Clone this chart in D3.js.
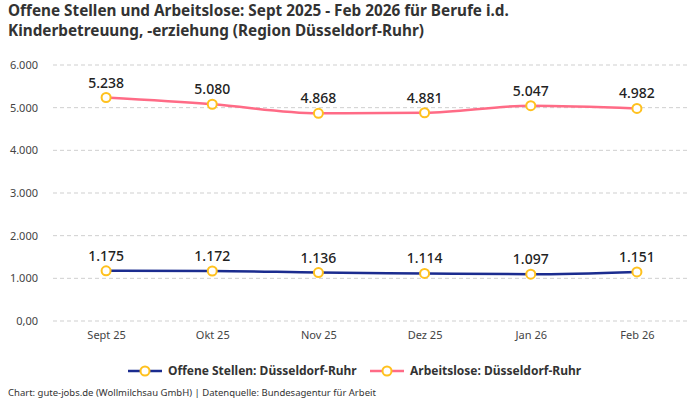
<!DOCTYPE html>
<html>
<head>
<meta charset="utf-8">
<script src="https://cdn.jsdelivr.net/npm/d3@7"></script>
<style>
  body { margin: 0; background: #fff; }
  text { font-family: "Noto Sans", sans-serif; }
</style>
</head>
<body>
<svg id="chart"></svg>
<script>
const WIDTH = 700;
const HEIGHT = 400;

const PADDING = {
    top: 65,
    bottom: 79,
    start: 53,
    end: 10
};

const months = ["Sept 25", "Okt 25", "Nov 25", "Dez 25", "Jan 26", "Feb 26"];
const offeneStellen = [1175, 1172, 1136, 1114, 1097, 1151];
const arbeitslose = [5238, 5080, 4868, 4881, 5047, 4982];
const yTicks = [0, 1000, 2000, 3000, 4000, 5000, 6000];
const yTickLabels = ["0,00", "1.000", "2.000", "3.000", "4.000", "5.000", "6.000"];

const seriesNames = ["Offene Stellen: Düsseldorf-Ruhr", "Arbeitslose: Düsseldorf-Ruhr"];
const seriesColors = ["#1b2c8f", "#ff6b86"];
const MARKER_COLOR = "#ffc11e";

const deFormat = d3.formatLocale({ decimal: ",", thousands: ".", grouping: [3], currency: ["", "€"] }).format(",d");

const svg = d3.select("#chart")
    .attr("width", WIDTH)
    .attr("height", HEIGHT);

// title
const title = svg.append("text")
    .attr("x", 8)
    .attr("y", 16)
    .attr("font-size", "15.3px")
    .attr("font-weight", "bold")
    .attr("fill", "#333");
title.append("tspan").attr("x", 8).attr("dy", 0)
    .text("Offene Stellen und Arbeitslose: Sept 2025 - Feb 2026 für Berufe i.d.");
title.append("tspan").attr("x", 8).attr("dy", 20)
    .text("Kinderbetreuung, -erziehung (Region Düsseldorf-Ruhr)");

let xScale = d3.scalePoint()
    .domain(months)
    .range([PADDING.start, WIDTH - PADDING.end])
    .padding(0.5);

let yScale = d3.scaleLinear()
    .domain([0, 6000])
    .range([HEIGHT - PADDING.bottom, PADDING.top]);

// grid lines
svg.append("g")
    .selectAll("line")
    .data(yTicks)
    .enter()
    .append("line")
        .attr("x1", PADDING.start)
        .attr("x2", WIDTH - PADDING.end)
        .attr("y1", d => yScale(d))
        .attr("y2", d => yScale(d))
        .attr("stroke", "#cfcfcf")
        .attr("stroke-dasharray", "4,3");

let yAxis = d3.axisLeft(yScale)
    .tickValues(yTicks)
    .tickSize(0)
    .tickPadding(0)
    .tickFormat((d, i) => yTickLabels[i]);
svg.append("g")
    .attr("transform", `translate(38, 0)`)
    .call(yAxis)
    .call(g => g.select(".domain").remove())
    .call(g => g.selectAll("text")
        .attr("font-size", "11px")
        .attr("fill", "#444")
        .style("font-family", "'Noto Sans', sans-serif"));

let xAxis = d3.axisBottom(xScale)
    .tickSize(0)
    .tickPadding(0);
svg.append("g")
    .attr("transform", `translate(0, ${HEIGHT - PADDING.bottom + 10})`)
    .call(xAxis)
    .call(g => g.select(".domain").remove())
    .call(g => g.selectAll("text")
        .attr("font-size", "11px")
        .attr("fill", "#444")
        .style("font-family", "'Noto Sans', sans-serif"));

const line = d3.line()
    .x((d, i) => xScale(months[i]))
    .y(d => yScale(d))
    .curve(d3.curveMonotoneX);

[offeneStellen, arbeitslose].forEach((values, s) => {
    const g = svg.append("g");
    g.append("path")
        .datum(values)
        .attr("d", line)
        .attr("fill", "none")
        .attr("stroke", seriesColors[s])
        .attr("stroke-width", 2.5);

    g.selectAll("circle")
        .data(values)
        .enter()
        .append("circle")
            .attr("cx", (d, i) => xScale(months[i]))
            .attr("cy", d => yScale(d))
            .attr("r", 4.5)
            .attr("fill", "#fff")
            .attr("stroke", MARKER_COLOR)
            .attr("stroke-width", 2);

    g.selectAll(".value-label")
        .data(values)
        .enter()
        .append("text")
            .classed("value-label", true)
            .attr("x", (d, i) => xScale(months[i]))
            .attr("y", d => yScale(d) - 10)
            .attr("text-anchor", "middle")
            .attr("font-size", "14px")
            .attr("font-weight", 500)
            .attr("fill", "#222")
            .text(d => deFormat(d));
});

// legend
const legendX = [128, 370];
seriesNames.forEach((name, s) => {
    const g = svg.append("g")
        .attr("transform", `translate(${legendX[s]}, 371)`);
    g.append("line")
        .attr("x1", 0).attr("x2", 34)
        .attr("stroke", seriesColors[s])
        .attr("stroke-width", 2.5);
    g.append("circle")
        .attr("cx", 17).attr("r", 4.5)
        .attr("fill", "#fff")
        .attr("stroke", MARKER_COLOR)
        .attr("stroke-width", 2);
    g.append("text")
        .attr("x", 40)
        .attr("dy", "0.35em")
        .attr("font-size", "12px")
        .attr("font-weight", "bold")
        .attr("fill", "#333")
        .text(name);
});

svg.append("text")
    .attr("x", 8)
    .attr("y", 396)
    .attr("font-size", "9.5px")
    .attr("fill", "#333")
    .text("Chart: gute-jobs.de (Wollmilchsau GmbH) | Datenquelle: Bundesagentur für Arbeit");
</script>
</body>
</html>
